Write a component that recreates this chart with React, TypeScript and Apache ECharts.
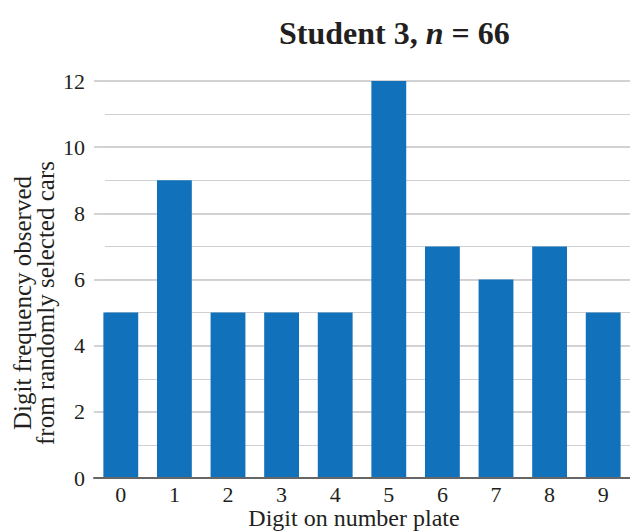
import React, { useEffect, useRef } from "react";
import * as echarts from "echarts";

const categories = ["0", "1", "2", "3", "4", "5", "6", "7", "8", "9"];
const frequencies = [5, 9, 5, 5, 5, 12, 7, 6, 7, 5];
const yMin = 0;
const yMax = 12;

const SERIF = "'Liberation Serif', 'Times New Roman', serif";

export default function App() {
  const ref = useRef<HTMLDivElement>(null);
  useEffect(() => {
    if (!ref.current) return;
    const chart = echarts.init(ref.current, null, { renderer: "svg" });
    chart.setOption({
      animation: false,
      backgroundColor: "#ffffff",
      textStyle: { fontFamily: SERIF },
      title: {
        text: "{b|Student 3, }{i|n}{b| = 66}",
        left: 274,
        top: 12,
        textStyle: {
          rich: {
            b: { fontFamily: SERIF, fontWeight: "bold", fontSize: 32, color: "#231f20" },
            i: { fontFamily: SERIF, fontWeight: "bold", fontStyle: "italic", fontSize: 32, color: "#231f20" },
          },
        },
      },
      grid: [
        { left: 94, right: 0, top: 81, bottom: 53, outerBoundsMode: "none", containLabel: false },
        { left: 105, right: 0, top: 81, bottom: 53, outerBoundsMode: "none", containLabel: false },
      ],
      xAxis: [
        {
          type: "category",
          gridIndex: 0,
          data: categories,
          axisLine: { lineStyle: { color: "#666666", width: 2 } },
          axisTick: { show: false },
          axisLabel: { fontFamily: SERIF, fontSize: 22, lineHeight: 20, color: "#231f20", margin: 6 },
          z: 5,
        },
        { type: "value", gridIndex: 1, show: false, min: 0, max: 1 },
      ],
      yAxis: [
        {
          type: "value",
          gridIndex: 0,
          min: yMin,
          max: yMax,
          interval: 2,
          axisLine: { show: false },
          axisTick: { show: false },
          axisLabel: { fontFamily: SERIF, fontSize: 22, color: "#231f20", margin: 9 },
          splitLine: { lineStyle: { color: "#c4c4c6", width: 1.5 } },
        },
        {
          type: "value",
          gridIndex: 1,
          min: yMin,
          max: yMax,
          interval: 1,
          axisLine: { show: false },
          axisTick: { show: false },
          axisLabel: { show: false },
          splitLine: { lineStyle: { color: "#d0d0d2", width: 1.2 } },
        },
      ],
      series: [
        {
          type: "bar",
          xAxisIndex: 0,
          yAxisIndex: 0,
          data: frequencies,
          barWidth: "65%",
          itemStyle: { color: "#1172bb" },
          z: 3,
        },
      ],
      graphic: [
        {
          type: "text",
          x: 34,
          y: 303,
          rotation: Math.PI / 2,
          style: {
            text: "Digit frequency observed\nfrom randomly selected cars",
            font: `25px ${SERIF}`,
            fill: "#231f20",
            textAlign: "center",
            textVerticalAlign: "middle",
            lineHeight: 23,
          },
        },
        {
          type: "text",
          x: 354,
          y: 518,
          style: {
            text: "Digit on number plate",
            font: `24px ${SERIF}`,
            fill: "#231f20",
            textAlign: "center",
            textVerticalAlign: "middle",
            lineHeight: 22,
          },
        },
      ],
    });
    return () => chart.dispose();
  }, []);
  return <div ref={ref} style={{ width: 630, height: 531, position: "absolute", left: 0, top: 0 }} />;
}
